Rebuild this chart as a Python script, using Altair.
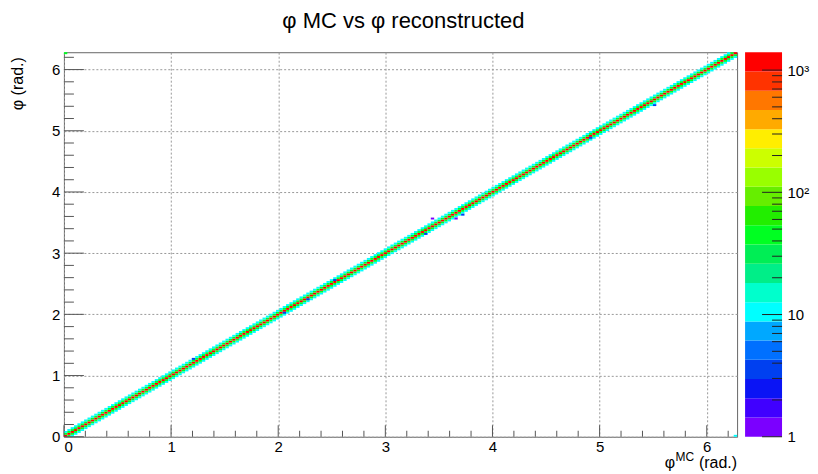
import math
import numpy as np
import pandas as pd
import altair as alt

# ---------------- data ----------------
TWO_PI = 2 * math.pi
N_BINS = 200                       # bins per axis (0 .. 2*pi)
Z_MAX = 1400                       # top of the colour scale

# counts across the diagonal band (offset in y-bins from the diagonal)
BAND_OFFSETS = [-2, -1, 0, 1, 2]
BAND_COUNTS = [11, 40, 1150, 40, 11]

# isolated off-diagonal cells (phi MC, phi reco, count)
OUTLIER_X = [1.20, 2.05, 2.27, 2.52, 3.37, 3.44, 3.65, 3.72, 4.93, 5.50, 0.01, 6.27]
OUTLIER_Y = [1.27, 2.02, 2.24, 2.57, 3.31, 3.58, 3.58, 3.64, 4.90, 5.42, 6.27, 0.01]
OUTLIER_C = [3, 3, 3, 3, 3, 1, 1, 3, 3, 3, 40, 11]

# colour palette, bottom (1) to top (Z_MAX)
PALETTE = ["#7b00ff", "#4000ff", "#0a14f5", "#0040f0", "#0070ff",
           "#00a8ff", "#00ffff", "#00ffcc", "#00ee88", "#00ee55",
           "#00ff22", "#22ee00", "#66ee00", "#99ff00", "#ccff00",
           "#ffee00", "#ffaa00", "#ff7700", "#ff3300", "#ff0000"]

AXIS_MAJOR = [0, 1, 2, 3, 4, 5, 6]
AXIS_MINOR = [0.2, 0.4, 0.6, 0.8, 1.2, 1.4, 1.6, 1.8, 2.2, 2.4, 2.6, 2.8,
              3.2, 3.4, 3.6, 3.8, 4.2, 4.4, 4.6, 4.8, 5.2, 5.4, 5.6, 5.8, 6.2]
CB_MAJOR = [1, 10, 100, 1000]
CB_MINOR = [2, 3, 4, 5, 6, 7, 8, 9, 20, 30, 40, 50, 60, 70, 80, 90,
            200, 300, 400, 500, 600, 700, 800, 900]

TITLE = "φ MC vs φ reconstructed"
Y_TITLE = "φ (rad.)"
X_TITLE_PARTS = ["φ", "MC", "(rad.)"]

# ---------------- build tables ----------------
bw = TWO_PI / N_BINS
NC = len(PALETTE)
lmax = math.log10(Z_MAX)


def colour(c):
    i = int(math.floor(math.log10(c) / lmax * NC))
    return PALETTE[max(0, min(NC - 1, i))]


rows = []
for i in range(N_BINS):
    for off, c in zip(BAND_OFFSETS, BAND_COUNTS):
        j = i + off
        if 0 <= j < N_BINS:
            rows.append((i, j, c))
for x, y, c in zip(OUTLIER_X, OUTLIER_Y, OUTLIER_C):
    rows.append((int(x / bw), int(y / bw), c))

cells = pd.DataFrame({
    "x0": [r[0] * bw for r in rows],
    "x1": [(r[0] + 1) * bw for r in rows],
    "y0": [r[1] * bw for r in rows],
    "y1": [(r[1] + 1) * bw for r in rows],
    "count": [r[2] for r in rows],
    "col": [colour(r[2]) for r in rows],
})

edges = [10 ** (k * lmax / NC) for k in range(NC + 1)]
cbar = pd.DataFrame({"lo": edges[:-1], "hi": edges[1:], "col": PALETTE})

W, H = 674, 385
FONT = "Liberation Sans"
xs = alt.Scale(domain=[0, TWO_PI], nice=False, zero=False)
ys = alt.Scale(domain=[0, TWO_PI], nice=False, zero=False)
TICK_COL = "#555555"

XAX = alt.Axis(values=AXIS_MAJOR, title=None,
               labelFont=FONT, labelFontSize=15, labelColor="black",
               labelPadding=3, tickSize=0, ticks=False,
               domain=False, gridDash=[2, 2], gridColor="#999999")
YAX = alt.Axis(values=AXIS_MAJOR, title=None,
               labelFont=FONT, labelFontSize=15, labelColor="black",
               labelPadding=4, tickSize=0, ticks=False, domain=False,
               gridDash=[2, 2], gridColor="#999999")

heat = alt.Chart(cells).mark_rect(strokeWidth=0).encode(
    x=alt.X("x0:Q", scale=xs, axis=XAX, title=None),
    x2="x1:Q",
    y=alt.Y("y0:Q", scale=ys, axis=YAX, title=None),
    y2="y1:Q",
    color=alt.Color("col:N", scale=None),
)

xmaj = alt.Chart(pd.DataFrame({"v": AXIS_MAJOR})).mark_rule(color=TICK_COL).encode(
    x=alt.X("v:Q", scale=xs, axis=XAX, title=None),
    y=alt.value(H), y2=alt.value(H - 11.5))
xmin = alt.Chart(pd.DataFrame({"v": AXIS_MINOR})).mark_rule(color=TICK_COL).encode(
    x=alt.X("v:Q", scale=xs, axis=XAX, title=None),
    y=alt.value(H), y2=alt.value(H - 6))
ymaj = alt.Chart(pd.DataFrame({"v": AXIS_MAJOR})).mark_rule(color=TICK_COL).encode(
    y=alt.Y("v:Q", scale=ys, axis=YAX, title=None),
    x=alt.value(0), x2=alt.value(20))
ymin = alt.Chart(pd.DataFrame({"v": AXIS_MINOR})).mark_rule(color=TICK_COL).encode(
    y=alt.Y("v:Q", scale=ys, axis=YAX, title=None),
    x=alt.value(0), x2=alt.value(10))

# axis titles (ROOT style): phi with superscript MC, then (rad.)
t_rad = alt.Chart(pd.DataFrame({"t": [X_TITLE_PARTS[2]]})).mark_text(
    font=FONT, fontSize=16, align="right", baseline="alphabetic", color="black"
).encode(text="t:N", x=alt.value(W), y=alt.value(H + 31))
t_mc = alt.Chart(pd.DataFrame({"t": [X_TITLE_PARTS[1]]})).mark_text(
    font=FONT, fontSize=12, align="right", baseline="alphabetic", color="black"
).encode(text="t:N", x=alt.value(W - 43), y=alt.value(H + 24))
t_phi = alt.Chart(pd.DataFrame({"t": [X_TITLE_PARTS[0]]})).mark_text(
    font=FONT, fontSize=16, align="right", baseline="alphabetic", color="black"
).encode(text="t:N", x=alt.value(W - 62), y=alt.value(H + 31))
t_y = alt.Chart(pd.DataFrame({"t": [Y_TITLE]})).mark_text(
    font=FONT, fontSize=16, align="right", baseline="middle", angle=270, color="black"
).encode(text="t:N", x=alt.value(-46), y=alt.value(5))

main = alt.layer(heat, xmaj, xmin, ymaj, ymin, t_rad, t_mc, t_phi, t_y).properties(
    width=W, height=H, view=alt.ViewBackground(stroke="#666666", strokeWidth=1))

CBW = 37
cs = alt.Scale(type="log", domain=[1, Z_MAX], nice=False)
CAX = alt.Axis(orient="right", values=CB_MAJOR, ticks=False, tickSize=0,
               domain=False, grid=False, title=None, labelPadding=5,
               labelFont=FONT, labelFontSize=15, labelColor="black",
               labelExpr="datum.value == 1 ? '1' : datum.value == 10 ? '10' : datum.value == 100 ? '10²' : '10³'")

cb_rect = alt.Chart(cbar).mark_rect(strokeWidth=0).encode(
    y=alt.Y("lo:Q", scale=cs, axis=CAX, title=None),
    y2="hi:Q",
    x=alt.value(0), x2=alt.value(CBW),
    color=alt.Color("col:N", scale=None),
)
cb_maj = alt.Chart(pd.DataFrame({"v": CB_MAJOR})).mark_rule(color="#222222").encode(
    y=alt.Y("v:Q", scale=cs, axis=CAX, title=None), x=alt.value(CBW - 20), x2=alt.value(CBW))
cb_min = alt.Chart(pd.DataFrame({"v": CB_MINOR})).mark_rule(color="#222222").encode(
    y=alt.Y("v:Q", scale=cs, axis=CAX, title=None), x=alt.value(CBW - 10), x2=alt.value(CBW))

colorbar = alt.layer(cb_rect, cb_maj, cb_min).properties(
    width=CBW, height=H, view=alt.ViewBackground(stroke="transparent"))

chart = alt.hconcat(main, colorbar, spacing=6).resolve_scale(
    x="independent", y="independent"
).properties(
    title=alt.TitleParams(TITLE, fontSize=22, font=FONT, dx=-6,
                          fontWeight="normal", anchor="middle", offset=19, color="black"),
    background="white",
    padding={"left": 1, "top": 1, "right": 0, "bottom": 0},
).configure_axis(
    labelFontSize=15, labelFont=FONT, labelColor="black",
)

chart.save("out.html", embed_options={"renderer": "svg", "actions": False})
